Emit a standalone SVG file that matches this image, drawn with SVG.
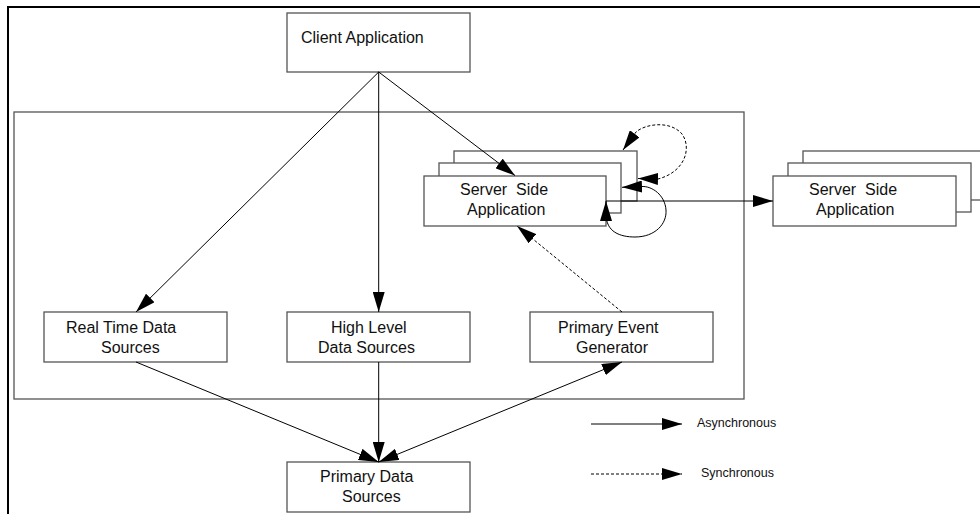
<svg xmlns="http://www.w3.org/2000/svg" width="980" height="514" viewBox="0 0 980 514">
<style>
.box{fill:#fff;stroke:#555;stroke-width:1.3}
.frame{fill:none;stroke:#555;stroke-width:1.3}
.lbl{font-family:"Liberation Sans",Arial,sans-serif;font-size:16px;fill:#111;white-space:pre}
.leg{font-family:"Liberation Sans",Arial,sans-serif;font-size:12.5px;fill:#111}
.c{fill:none;stroke:#000;stroke-width:1}
.d{fill:none;stroke:#000;stroke-width:1;stroke-dasharray:3,2}
</style>
<defs>
<marker id="ah" markerUnits="userSpaceOnUse" markerWidth="20" markerHeight="12" refX="20" refY="6" orient="auto-start-reverse" viewBox="0 0 20 12">
<path d="M0,0 L20,6 L0,12 Z" fill="#000" stroke="none"/>
</marker>
</defs>
<rect width="980" height="514" fill="#fff"/>
<path d="M8,514 V7 H980" fill="none" stroke="#000" stroke-width="2"/>
<rect id="container" class="frame" x="14" y="112" width="730" height="287"/>

<g id="client">
<rect class="box" x="287" y="13" width="183" height="59"/>
<text class="lbl" x="301" y="43">Client Application</text>
</g>

<g id="server-left">
<rect class="box" x="454" y="151" width="183" height="50"/>
<rect class="box" x="439" y="163" width="182" height="50"/>
<rect class="box" x="424" y="176" width="182" height="50"/>
<text class="lbl" x="460" y="195">Server  Side</text>
<text class="lbl" x="467" y="215">Application</text>
</g>

<g id="server-right">
<rect class="box" x="803" y="151" width="190" height="49"/>
<rect class="box" x="788" y="163" width="183" height="49"/>
<rect class="box" x="773" y="176" width="183" height="50"/>
<text class="lbl" x="809" y="195">Server  Side</text>
<text class="lbl" x="816" y="215">Application</text>
</g>

<g id="realtime">
<rect class="box" x="44" y="312" width="183" height="50"/>
<text class="lbl" x="66" y="333">Real Time Data</text>
<text class="lbl" x="101" y="353">Sources</text>
</g>

<g id="highlevel">
<rect class="box" x="287" y="312" width="183" height="50"/>
<text class="lbl" x="331" y="333">High Level</text>
<text class="lbl" x="318" y="353">Data Sources</text>
</g>

<g id="eventgen">
<rect class="box" x="530" y="312" width="183" height="50"/>
<text class="lbl" x="558" y="333">Primary Event</text>
<text class="lbl" x="576" y="353">Generator</text>
</g>

<g id="primary">
<rect class="box" x="287" y="462" width="183" height="50"/>
<text class="lbl" x="320" y="482">Primary Data</text>
<text class="lbl" x="342" y="502">Sources</text>
</g>

<g id="connectors">
<line class="c" x1="378.7" y1="72" x2="136" y2="312" marker-end="url(#ah)"/>
<line class="c" x1="378.7" y1="72" x2="378.7" y2="312" marker-end="url(#ah)"/>
<line class="c" x1="378.7" y1="72" x2="515" y2="175.5" marker-end="url(#ah)"/>
<line class="c" x1="136" y1="362" x2="378.7" y2="462" marker-end="url(#ah)"/>
<line class="c" x1="378.7" y1="362" x2="378.7" y2="462" marker-end="url(#ah)"/>
<line class="c" x1="378.7" y1="462" x2="622" y2="362" marker-start="url(#ah)" marker-end="url(#ah)"/>
<line class="d" x1="622" y1="312" x2="517" y2="226" marker-end="url(#ah)"/>
<line class="c" x1="606" y1="201" x2="773" y2="201" marker-end="url(#ah)"/>
<path class="c" d="M606,201 L606,214 C606,232 620,237 635,237 C655,237 667,224 666,210 C665,195 652,186 642,186.5 L622,187.3" marker-start="url(#ah)" marker-end="url(#ah)"/>
<path class="d" d="M623,150 L636,132 C645,124 670,120 682,134 C692,148 685,172 658,179 L638,178.5" marker-start="url(#ah)" marker-end="url(#ah)"/>
</g>

<g id="legend">
<line class="c" x1="591" y1="424" x2="682" y2="424" marker-end="url(#ah)"/>
<text class="leg" x="697" y="427">Asynchronous</text>
<line class="d" x1="591" y1="474" x2="682" y2="474" marker-end="url(#ah)"/>
<text class="leg" x="701" y="477">Synchronous</text>
</g>
</svg>
